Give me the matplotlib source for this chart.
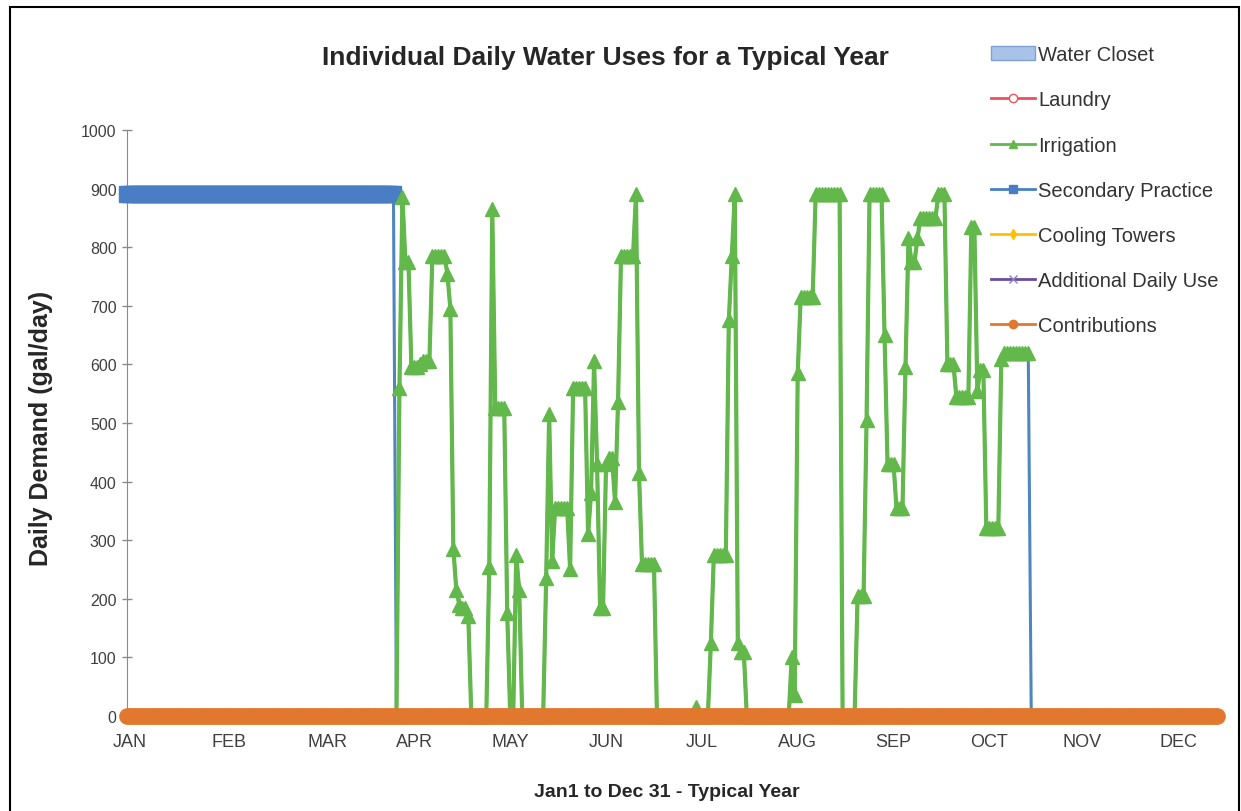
import numpy as np
import matplotlib
matplotlib.use('Agg')
import matplotlib.pyplot as plt
from matplotlib.lines import Line2D
from matplotlib.patches import Patch, Rectangle

plt.rcParams.update({
    'font.family': 'Liberation Sans',
    'font.size': 12,
})

n_days = 365
month_labels = ['JAN', 'FEB', 'MAR', 'APR', 'MAY', 'JUN',
                'JUL', 'AUG', 'SEP', 'OCT', 'NOV', 'DEC']
month_ticks = [1, 34, 67, 96, 128, 160, 192, 224, 256, 288, 319, 351]

# irrigation: (value, number of days) runs, from day 90
irrigation_start = 90
irrigation_runs = [
    (0, 1), (560, 1), (885, 1), (775, 2), (595, 3), (600, 1), (605, 3),
    (785, 5), (755, 1), (695, 1), (285, 1), (215, 1), (190, 1), (185, 2),
    (170, 1), (0, 6),
    (255, 1), (865, 1), (525, 4), (175, 1), (0, 2), (275, 1), (215, 1), (0, 8),
    (235, 1), (515, 1), (265, 1), (355, 5), (250, 1), (560, 5), (310, 1),
    (380, 1), (605, 1), (430, 1), (185, 2), (430, 1), (440, 2), (365, 1),
    (535, 1), (785, 5), (890, 1), (415, 1), (260, 5), (0, 13),
    (15, 1), (0, 4), (125, 1), (275, 5), (675, 1), (785, 1), (890, 1),
    (125, 1), (110, 2), (0, 15),
    (100, 1), (35, 1), (585, 1), (715, 5), (890, 9), (0, 5),
    (205, 3), (505, 1), (890, 5), (650, 1), (430, 3), (355, 3), (595, 1),
    (815, 1), (775, 2), (815, 1), (850, 6), (890, 3), (600, 3), (545, 5),
    (835, 2), (555, 1), (590, 2), (320, 5), (610, 1), (620, 9),
]

# secondary practice: flat Jan-Mar, then tracks the irrigation demand, then 0
secondary_q1 = 890
secondary_q1_days = 90

water_closet = [0] * n_days
laundry = [0] * n_days
cooling_towers = [0] * n_days
additional_use = [0] * n_days
contributions = [0] * n_days


def expand(runs):
    out = []
    for v, k in runs:
        out += [v] * k
    return out


days = np.arange(n_days)
irrigation = expand(irrigation_runs)
irr_days = np.arange(irrigation_start, irrigation_start + len(irrigation))
secondary = [secondary_q1] * secondary_q1_days + irrigation
secondary += [0] * (n_days - len(secondary))

c_wc_face, c_wc_edge = '#A9C3E8', '#7F9FD6'
c_laundry = '#F0505A'
c_irr = '#62B84A'
c_sec = '#4A7EC4'
c_cool = '#FFC000'
c_add = '#6A4C9C'
c_contrib = '#E2782E'

fig = plt.figure(figsize=(12.41, 8.12), dpi=100)
ax = fig.add_axes([0.1023, 0.117, 0.8807, 0.7217])

ax.fill_between(days, water_closet, color=c_wc_face, zorder=1)
ax.plot(days, laundry, color=c_laundry, lw=2, zorder=2, clip_on=False)
ax.plot(days, secondary, color='#4F86BE', lw=2.2, marker='s', ms=12,
        mfc=c_sec, mec=c_sec, markevery=slice(0, secondary_q1_days),
        zorder=3, clip_on=False)
ax.plot(irr_days, irrigation, color=c_irr, lw=3, marker='^', ms=10,
        zorder=4, clip_on=False)
ax.plot(days, cooling_towers, color=c_cool, lw=2, zorder=5, clip_on=False)
ax.plot(days, additional_use, color=c_add, lw=2, zorder=5, clip_on=False)
ax.plot(days, contributions, color=c_contrib, lw=3, marker='o', ms=11,
        zorder=6, clip_on=False)

ax.set_xlim(0, n_days)
ax.set_ylim(0, 1000)
ax.set_yticks(range(0, 1001, 100))
ax.set_xticks(month_ticks)
ax.set_xticklabels(month_labels)
ax.tick_params(axis='x', length=0, pad=12, labelsize=13, colors='#404040')
ax.tick_params(axis='y', direction='inout', length=7, width=1, color='#8a8a8a',
               labelsize=11.5, labelcolor='#404040', pad=4)
for s in ['top', 'right']:
    ax.spines[s].set_visible(False)
ax.spines['left'].set_color('#8a8a8a')
ax.spines['bottom'].set_color('#8a8a8a')

fig.text(0.4875, 0.9286, 'Individual Daily Water Uses for a Typical Year',
         ha='center', va='center', fontsize=19, fontweight='bold', color='#262626')
fig.text(0.033, 0.472, 'Daily Demand (gal/day)', rotation=90,
         ha='center', va='center', fontsize=18, fontweight='bold', color='#262626')
fig.text(0.5375, 0.0246, 'Jan1 to Dec 31 - Typical Year',
         ha='center', va='center', fontsize=14, fontweight='bold', color='#262626')

handles = [
    Patch(facecolor=c_wc_face, edgecolor=c_wc_edge, label='Water Closet'),
    Line2D([], [], color=c_laundry, lw=2, marker='o', ms=6, mfc='white',
           label='Laundry'),
    Line2D([], [], color=c_irr, lw=2, marker='^', ms=6, label='Irrigation'),
    Line2D([], [], color=c_sec, lw=2, marker='s', ms=6,
           label='Secondary Practice'),
    Line2D([], [], color=c_cool, lw=2, marker='d', ms=5,
           label='Cooling Towers'),
    Line2D([], [], color=c_add, lw=2, marker='x', ms=6, mec='#8e7cc3',
           label='Additional Daily Use'),
    Line2D([], [], color=c_contrib, lw=2, marker='o', ms=6,
           label='Contributions'),
]
fig.legend(handles=handles, loc='upper left', bbox_to_anchor=(0.792, 0.953),
           frameon=False, fontsize=14.5, labelspacing=1.3, handlelength=2.2,
           handletextpad=0.15, labelcolor='#333333', borderaxespad=0)

# outer frame
fig.add_artist(Rectangle((0.008, -0.05), 0.99, 1.04, transform=fig.transFigure,
                         fill=False, edgecolor='black', lw=1.5))

fig.savefig('out.png', dpi=100)
